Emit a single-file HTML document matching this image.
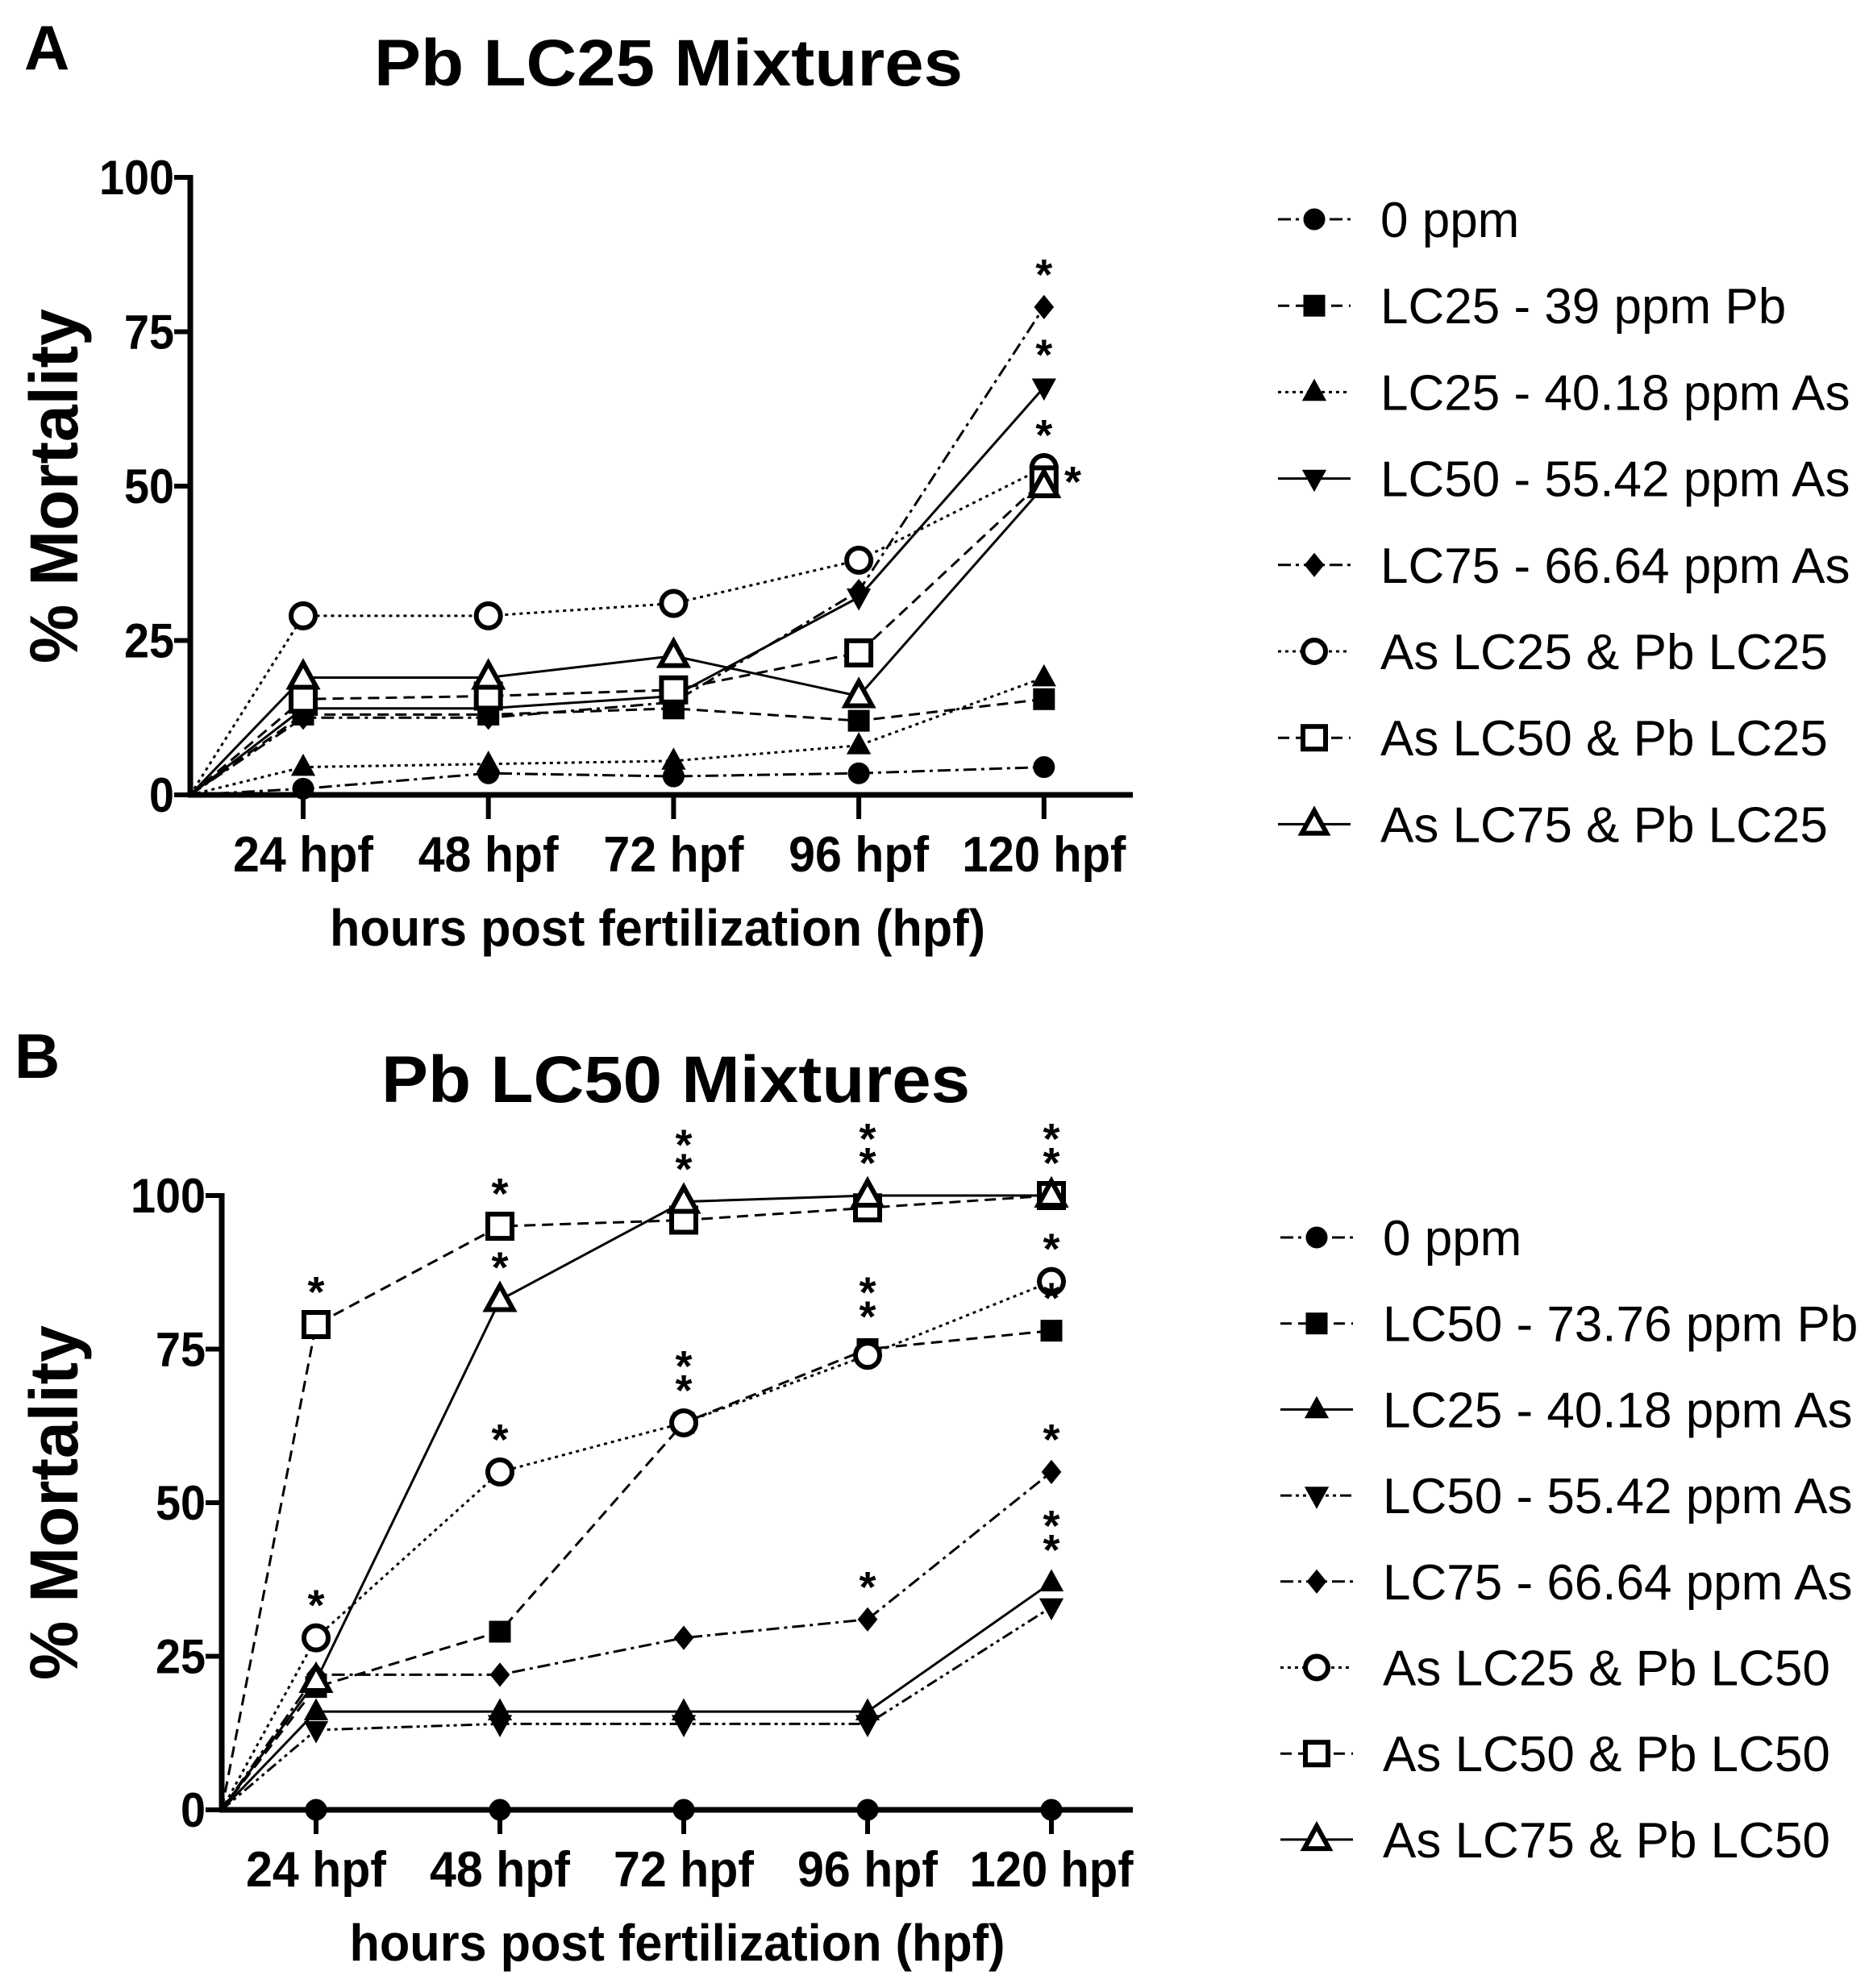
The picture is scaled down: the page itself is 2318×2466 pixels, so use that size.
<!DOCTYPE html>
<html><head><meta charset="utf-8">
<style>
html,body{margin:0;padding:0;background:#fff;}
svg{display:block;font-family:"Liberation Sans",Arial,sans-serif;}
</style></head>
<body>
<svg id="fig" width="2318" height="2466" viewBox="0 0 2318 2466" xmlns="http://www.w3.org/2000/svg">
<text x="30" y="86" font-size="78" font-weight="bold">A</text>
<text x="829" y="106" font-size="82" font-weight="bold" text-anchor="middle" textLength="730" lengthAdjust="spacingAndGlyphs">Pb LC25 Mixtures</text>
<text x="18" y="1337" font-size="78" font-weight="bold">B</text>
<text x="838" y="1367" font-size="82" font-weight="bold" text-anchor="middle" textLength="730" lengthAdjust="spacingAndGlyphs">Pb LC50 Mixtures</text>
<g id="panelA"></g>
<g id="panelB"></g>
</svg>
<script>
const categories = ["24 hpf","48 hpf","72 hpf","96 hpf","120 hpf"];
const yTicks = [0,25,50,75,100];

const labelsA = ["0 ppm","LC25 - 39 ppm Pb","LC25 - 40.18 ppm As","LC50 - 55.42 ppm As","LC75 - 66.64 ppm As","As LC25 & Pb LC25","As LC50 & Pb LC25","As LC75 & Pb LC25"];
const a_ctrl  = [1,3.5,3,3.5,4.5];
const a_pb    = [13,13,14,12,15.5];
const a_as25  = [4.5,5,5.5,8,19];
const a_as50  = [14,14,16,32,66];
const a_as75  = [12.5,12.5,15,33,79];
const a_mix25 = [29,29,31,38,53];
const a_mix50 = [15.5,16,17,23,51];
const a_mix75 = [19,19,22.5,16,50];
const starsA = [[4,79,1],[4,66,1],[4,53,1]];

const labelsB = ["0 ppm","LC50 - 73.76 ppm Pb","LC25 - 40.18 ppm As","LC50 - 55.42 ppm As","LC75 - 66.64 ppm As","As LC25 & Pb LC50","As LC50 & Pb LC50","As LC75 & Pb LC50"];
const b_ctrl  = [0,0,0,0,0];
const b_pb    = [20,29,63,75,78];
const b_as25  = [16,16,16,16,37];
const b_as50  = [13,14,14,14,33];
const b_as75  = [22,22,28,31,55];
const b_mix25 = [28,55,63,74,86];
const b_mix50 = [79,95,96,98,100];
const b_mix75 = [21,83,99,100,100];
const starsB = [[0,79,1],[0,28,1],[1,95,1],[1,83,1],[1,55,1],[2,99,2],[2,63,2],[3,100,2],[3,75,2],[3,31,1],[4,100,2],[4,86,1],[4,78,1],[4,55,1],[4,37,2]];

const NS="http://www.w3.org/2000/svg";
const markersA=["circle","square","triangle","tridown","diamond","ocircle","osquare","otriangle"];
const dashesA=["16,6,4,6","14,8","4,5","","16,6,4,6","4,5","14,8",""];
const markersB=["circle","square","triangle","tridown","diamond","ocircle","osquare","otriangle"];
const dashesB=["16,6,4,6","14,8","","14,5,4,5,4,5","16,6,4,6","4,5","14,8",""];

function mk(tag,attrs,parent){const e=document.createElementNS(NS,tag);for(const k in attrs)e.setAttribute(k,attrs[k]);parent.appendChild(e);return e;}
function marker(g,type,x,y,s){
  let e;
  const open=type.startsWith("o");
  const fill=open?"#fff":"#000";
  const t=type.replace(/^o(?=(circle|square|triangle))/,"");
  if(t==="circle") e=mk("circle",{cx:x,cy:y,r:s},g);
  else if(t==="square") e=mk("rect",{x:x-s,y:y-s,width:2*s,height:2*s},g);
  else if(t==="triangle") e=mk("polygon",{points:`${x},${y-s*1.2} ${x-s*1.1},${y+s*0.8} ${x+s*1.1},${y+s*0.8}`},g);
  else if(t==="tridown") e=mk("polygon",{points:`${x},${y+s*1.2} ${x-s*1.1},${y-s*0.8} ${x+s*1.1},${y-s*0.8}`},g);
  else e=mk("polygon",{points:`${x},${y-s*1.1} ${x+s*0.9},${y} ${x},${y+s*1.1} ${x-s*0.9},${y}`},g);
  e.setAttribute("fill",fill);e.setAttribute("stroke","#000");e.setAttribute("stroke-width",open?6:1);
  
  
  return e;
}
function panel(g,cfg){
  const {x0,y0,y100,xEnd,cx0,dx,series,labels,markers,dashes,stars,legX,legY0,legDy}=cfg;
  const xs=i=>cx0+i*dx, ys=v=>y0-(v/100)*(y0-y100);
  const ya=mk("line",{x1:x0,y1:y100-3,x2:x0,y2:y0+3,stroke:"#000","stroke-width":7},g);
  
  const xa=mk("line",{x1:x0-3,y1:y0,x2:xEnd,y2:y0,stroke:"#000","stroke-width":7},g);
  
  yTicks.forEach(v=>{
    const tk=mk("line",{x1:x0-20,y1:ys(v),x2:x0,y2:ys(v),stroke:"#000","stroke-width":6},g);
    
    const t=mk("text",{x:x0-20,y:ys(v)+21,"font-size":60,"font-weight":"bold","text-anchor":"end","textLength":String(v).length*31,"lengthAdjust":"spacingAndGlyphs"},g);
    t.textContent=v;
  });
  categories.forEach((c,i)=>{
    const tk=mk("line",{x1:xs(i),y1:y0,x2:xs(i),y2:y0+30,stroke:"#000","stroke-width":6},g);
    
    const t=mk("text",{x:xs(i),y:y0+95,"font-size":62,"font-weight":"bold","text-anchor":"middle","textLength":c.length*29,"lengthAdjust":"spacingAndGlyphs"},g);
    t.textContent=c;
  });
  const xt=mk("text",{x:(x0+xEnd)/2+(cfg.xtOff||0),y:y0+187,"font-size":64,"font-weight":"bold","text-anchor":"middle","textLength":813,"lengthAdjust":"spacingAndGlyphs"},g);
  xt.textContent="hours post fertilization (hpf)";
  const yt=mk("text",{x:0,y:0,"font-size":84,"font-weight":"bold","text-anchor":"middle","textLength":440,"lengthAdjust":"spacingAndGlyphs",transform:`translate(96,${(y0+y100)/2}) rotate(-90)`},g);
  yt.textContent="% Mortality";
  series.forEach((vals,si)=>{
    const pts=[[x0,y0]].concat(vals.map((v,i)=>[xs(i),ys(v)]));
    const p=mk("polyline",{points:pts.map(p=>p.join(",")).join(" "),fill:"none",stroke:"#000","stroke-width":3,"stroke-dasharray":dashes[si]||"none"},g);
    
  });
  series.forEach((vals,si)=>{
    vals.forEach((v,i)=>marker(g,markers[si],xs(i),ys(v),markers[si].startsWith("o")?15:13));
  });
  stars.forEach(s=>{
    for(let k=0;k<s[2];k++){
      const t=mk("text",{x:xs(s[0]),y:ys(s[1])-22-k*30,"font-size":54,"font-weight":"bold","text-anchor":"middle"},g);
      t.textContent="*";
    }
  });
  labels.forEach((lab,i)=>{
    const ly=legY0+i*legDy;
    const lg=mk("g",{},g);
    
    mk("line",{x1:legX-45,y1:ly,x2:legX+45,y2:ly,stroke:"#000","stroke-width":3,"stroke-dasharray":dashes[i]||"none"},lg);
    marker(lg,markers[i],legX,ly,markers[i].startsWith("o")?14:13);
    const t=mk("text",{x:legX+82,y:ly+22,"font-size":62},lg);
    t.textContent=lab;
  });
}
panel(document.getElementById("panelA"),{x0:236,y0:986,y100:220,xEnd:1405,cx0:376,dx:229.7,
  series:[a_ctrl,a_pb,a_as25,a_as50,a_as75,a_mix25,a_mix50,a_mix75],labels:labelsA,markers:markersA,dashes:dashesA,
  stars:starsA,legX:1630,legY0:272,legDy:107.2,xtOff:-5});
(function(){const t=document.createElementNS(NS,"text");t.setAttribute("x",1320);t.setAttribute("y",616);t.setAttribute("font-size",54);t.setAttribute("font-weight","bold");t.textContent="*";


document.getElementById("panelA").appendChild(t);})();
panel(document.getElementById("panelB"),{x0:275,y0:2245,y100:1483,xEnd:1405,cx0:392,dx:228,
  series:[b_ctrl,b_pb,b_as25,b_as50,b_as75,b_mix25,b_mix50,b_mix75],labels:labelsB,markers:markersB,dashes:dashesB,
  stars:starsB,legX:1633,legY0:1535,legDy:106.7,xtOff:0});
</script>
</body></html>
